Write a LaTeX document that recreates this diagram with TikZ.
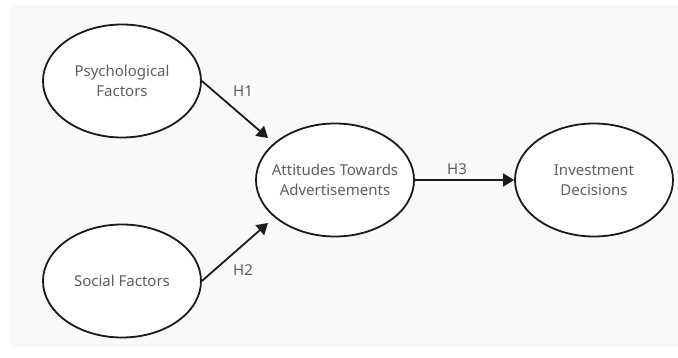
\documentclass[tikz,border=0pt]{standalone}
\usepackage{fontspec}
\setmainfont{Noto Sans}
\usetikzlibrary{shapes.geometric,arrows.meta}
\definecolor{bggray}{HTML}{F8F9FB}
\definecolor{txtgray}{HTML}{5E5E5E}
\definecolor{linecol}{HTML}{1A1A1A}
\tikzset{
  txt/.style={text=txtgray, font=\fontsize{15pt}{20pt}\selectfont, align=center, inner sep=0pt},
  construct/.style={ellipse, draw=linecol, line width=1.8pt, fill=white,
    minimum width=158pt, minimum height=113pt, inner sep=0pt,
    label={[txt]center:#1}},
  link/.style={draw=linecol, line width=1.8pt, -{Triangle[length=11pt,width=13pt]}},
  hlabel/.style={txt}
}
\begin{document}
\begin{tikzpicture}[x=1pt,y=-1pt]
\useasboundingbox (0,0) rectangle (678,358);
\fill[bggray] (10,5) rectangle (678,347);
\node[construct={Psychological\\Factors}] (psy) at (122,81) {};
\node[construct={Social Factors}] (soc) at (122,281) {};
\node[construct={Attitudes Towards\\Advertisements}] (att) at (335,180) {};
\node[construct={Investment\\Decisions}] (inv) at (594,180) {};
\coordinate (h1end) at (268,138);
\coordinate (h2end) at (268,223);
\draw[link] (psy.east) -- (h1end);
\draw[link] (soc.east) -- (h2end);
\draw[link] (att.east) -- (inv.west);
\node[hlabel] (h1) at (243,91) {H1};
\node[hlabel] (h2) at (243,270) {H2};
\node[hlabel] (h3) at (457,169) {H3};
\end{tikzpicture}
\end{document}
